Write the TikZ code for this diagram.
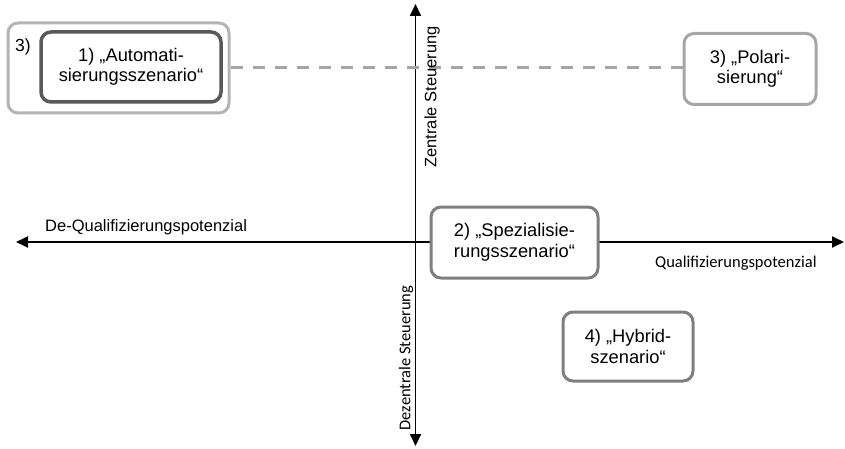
\documentclass[tikz,border=0pt]{standalone}
\usepackage{fontspec}
\setmainfont{Liberation Sans}
\newfontfamily\calfont{Carlito}
\usetikzlibrary{arrows.meta}
\definecolor{outergray}{HTML}{B4B4B4}
\definecolor{innergray}{HTML}{595959}
\definecolor{midgray}{HTML}{7F7F7F}
\definecolor{ltgray}{HTML}{A6A6A6}
\tikzset{
  box/.style={draw, rounded corners=10pt, line width=3pt, align=center, fill=white,
    font=\fontsize{18.3}{20.5}\selectfont, inner sep=0pt},
  axis/.style={line width=1.8pt, -{Triangle[length=12pt,width=11pt]}},
  lbl/.style={font=\fontsize{16.5}{19}\selectfont, inner sep=0pt},
}
\begin{document}
\begin{tikzpicture}[x=1pt,y=-1pt]
\useasboundingbox (0,0) rectangle (845,449);
% axes
\coordinate (o) at (415.5,242);
\coordinate (left) at (16,242);
\coordinate (right) at (844,242);
\coordinate (top) at (415.5,4);
\coordinate (bot) at (415.5,446);
\draw[axis] (o) -- (left);
\draw[axis] (o) -- (right);
\draw[axis] (o) -- (top);
\draw[axis] (o) -- (bot);
% boxes
\node[box, draw=outergray, minimum width=221pt, minimum height=90pt] (outer) at (118.5,68) {};
\node[lbl, font=\fontsize{17.5}{20}\selectfont] (three) at (23,47) {3)};
\node[box, draw=innergray, line width=3.5pt, minimum width=180pt, minimum height=70pt] (auto) at (131,67) {1) „Automati-\\sierungsszenario“};
\node[box, draw=ltgray, minimum width=132pt, minimum height=71pt] (polar) at (750,69) {3) „Polari-\\sierung“};
\draw[ltgray, line width=3pt, dash pattern=on 12pt off 10pt] (outer.east) -- (outer.east -| polar.west);
\node[box, draw=midgray, minimum width=167pt, minimum height=71pt] (spez) at (514.5,242.5) {2) „Spezialisie-\\rungsszenario“};
\node[box, draw=midgray, minimum width=130pt, minimum height=69pt] (hybrid) at (628,346.5) {4) „Hybrid-\\szenario“};
% axis labels
\node[lbl, anchor=west] (dq) at (45,227) {De-Qualifizierungspotenzial};
\node[lbl, font=\calfont\fontsize{16.5}{19}\selectfont, anchor=west] (q) at (655,263) {Qualifizierungspotenzial};
\node[lbl, rotate=90] (zs) at (432,97) {Zentrale Steuerung};
\node[lbl, font=\calfont\fontsize{16.5}{19}\selectfont, rotate=90] (ds) at (406,358) {Dezentrale Steuerung};
\end{tikzpicture}
\end{document}
